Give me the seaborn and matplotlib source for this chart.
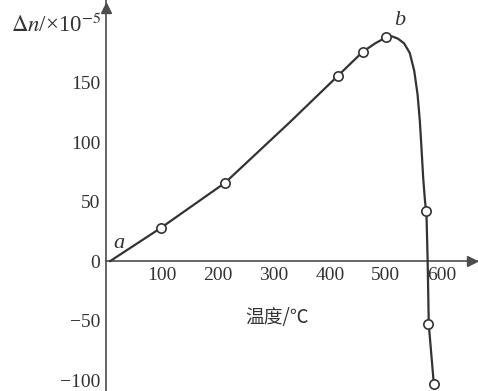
import numpy as np
import pandas as pd
import matplotlib
matplotlib.use('Agg')
import matplotlib.pyplot as plt
import seaborn as sns

# curve (temperature in C, delta n in 1e-5)
curve_t = [7, 98, 213, 329, 415, 459, 481, 500, 511, 522, 533, 543, 551, 557, 561, 564, 567, 570, 573, 575, 577, 586]
curve_dn = [0, 28, 66, 117, 156, 176, 183, 188, 189, 187, 183, 175, 160, 140, 118, 95, 70, 52, 38, 0, -53, -103]

# measured points (open circles)
point_t = [98, 213, 415, 459, 500, 572, 576, 586]
point_dn = [28, 66, 156, 176, 188, 42, -53, -103]

x_ticks = [100, 200, 300, 400, 500, 600]
y_ticks = [-100, -50, 0, 50, 100, 150]

curve = pd.DataFrame({'t': curve_t, 'dn': curve_dn})
points = pd.DataFrame({'t': point_t, 'dn': point_dn})

sns.set_style('white')
plt.rcParams['font.family'] = ['Liberation Serif', 'Noto Sans CJK SC']
plt.rcParams['mathtext.fontset'] = 'stix'

ink = '#333333'
axis_c = '#4d4d4d'

fig = plt.figure(figsize=(4.78, 3.91), dpi=100)
ax = fig.add_axes([106 / 478, 0, 1 - 106 / 478, 1])

sns.lineplot(data=curve, x='t', y='dn', estimator=None, sort=False,
             color=ink, linewidth=1.6, ax=ax, zorder=3)
sns.scatterplot(data=points, x='t', y='dn', s=45, facecolor='white',
                edgecolor=ink, linewidth=1.2, ax=ax, zorder=4)

ax.set_xlim(0, 665)
ax.set_ylim(-109, 219.5)
ax.set_xticks(x_ticks)
ax.set_yticks(y_ticks)
ax.set_xticklabels([str(v) for v in x_ticks])
ax.set_yticklabels([str(v).replace('-', '\u2212') for v in y_ticks])
ax.set_xlabel('')
ax.set_ylabel('')

for s in ['top', 'right']:
    ax.spines[s].set_visible(False)
ax.spines['left'].set_position(('data', 0))
ax.spines['bottom'].set_position(('data', 0))
for s in ['left', 'bottom']:
    ax.spines[s].set_color(axis_c)
    ax.spines[s].set_linewidth(1.2)

ax.tick_params(axis='x', direction='in', length=5, width=1, color=axis_c,
               labelsize=14, labelcolor='#333333', pad=4)
ax.tick_params(axis='y', direction='in', length=5, width=1, color=axis_c,
               labelsize=14, labelcolor='#333333', pad=4)

# arrow heads
ax.plot(655, 0, '>', color=axis_c, markersize=7, clip_on=False, zorder=5)
ax.plot(0, 213, '^', color=axis_c, markersize=7, clip_on=False, zorder=5)

ax.text(23, 15, 'a', fontsize=16, style='italic', color='#333333',
        ha='center', va='center')
ax.text(525, 202, 'b', fontsize=16, style='italic', color='#333333',
        ha='center', va='center')

fig.text(101 / 478, 1 - 25 / 391, r'$\mathit{\Delta n}$/×10$^{-5}$',
         fontsize=16.5, color='#333333', ha='right', va='center')
fig.text(245 / 478, 1 - 317 / 391, '温度/℃', fontsize=13.5,
         family=['Noto Sans CJK SC', 'DejaVu Sans'], color='#333333',
         ha='left', va='center')

fig.savefig('out.png', dpi=100)
